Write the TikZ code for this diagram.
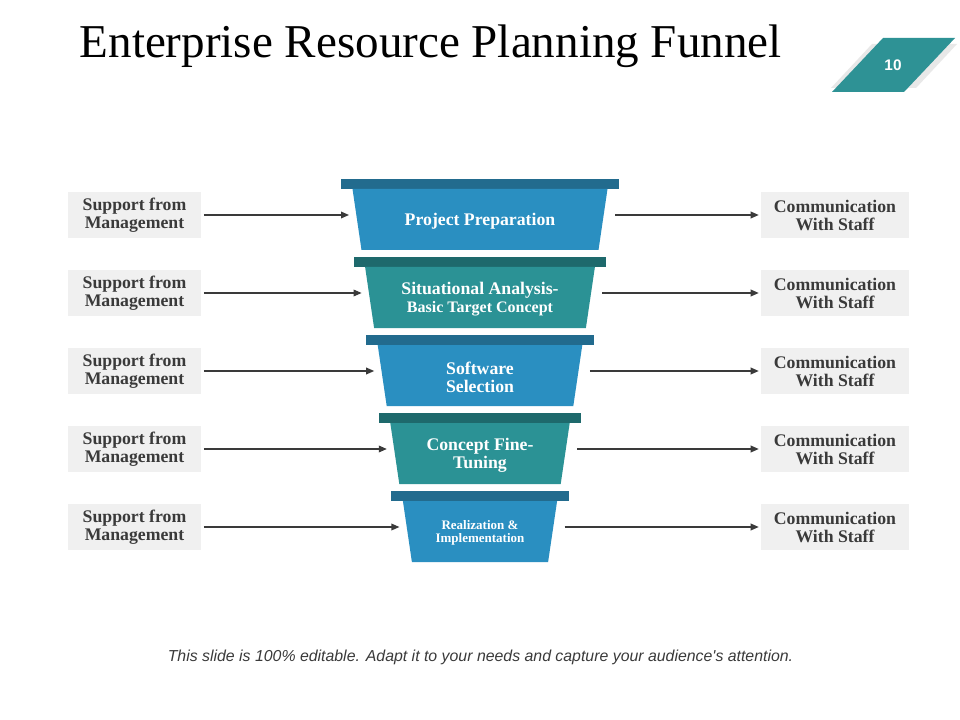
\documentclass[tikz,border=0pt]{standalone}
\usepackage{fontspec}
\setmainfont{Liberation Serif}
\setsansfont{Liberation Sans}
\usetikzlibrary{arrows.meta}
\definecolor{funblue}{HTML}{2A8FC1}
\definecolor{funbluecap}{HTML}{226B8E}
\definecolor{funteal}{HTML}{2B9295}
\definecolor{funtealcap}{HTML}{1E696C}
\definecolor{sidegray}{HTML}{F0F0F0}
\definecolor{textgray}{HTML}{3A3A3A}
\definecolor{badgeteal}{HTML}{2E9295}

\tikzset{
    sidebox/.style={fill=sidegray, text=textgray, align=center, inner sep=0pt,
        font=\bfseries\fontsize{13.3}{13.5}\selectfont, minimum width=99.75pt, minimum height=34.5pt},
    stagetext/.style={text=white, align=center, inner sep=0pt},
    link/.style={draw=textgray, line width=0.9pt, -{Triangle[length=6pt,width=5pt]}}
}

\begin{document}
\begin{tikzpicture}[x=0.75pt, y=-0.75pt]
    \useasboundingbox[fill=white] (0,0) rectangle (960,720);
    \node[anchor=base west, font=\fontsize{35.3}{40}\selectfont] (title) at (75,58) {Enterprise Resource Planning Funnel};
    \fill[gray!18] (872,44) -- (957,44) -- (916,88) -- (831,88) -- cycle;
    \fill[badgeteal] (883,38) -- (955,38) -- (904,92) -- (832,92) -- cycle;
    \node[text=white, font=\sffamily\bfseries\fontsize{11.5}{12}\selectfont] (page) at (893,65.5) {10};
    \foreach \i/\fc/\cc/\fs/\txt in {
        1/funblue/funbluecap/13.3/{Project Preparation},
        2/funteal/funtealcap/13.3/{Situational Analysis-\\\fontsize{12}{13.5}\selectfont Basic Target Concept},
        3/funblue/funbluecap/13.3/{Software\\Selection},
        4/funteal/funtealcap/13.3/{Concept Fine-\\Tuning},
        5/funblue/funbluecap/9.75/{Realization \&\\Implementation}}
    {
        \pgfmathsetmacro\yc{179+78*(\i-1)}
        \pgfmathsetmacro\hw{139-12.6*(\i-1)}
        \fill[\cc] (480-\hw,\yc) rectangle (480+\hw,\yc+10);
        \fill[\fc] (480-\hw+11.5,\yc+10) -- (480+\hw-11.5,\yc+10) -- (480+\hw-20.5,\yc+71) -- (480-\hw+20.5,\yc+71) -- cycle;
        \node[stagetext, font=\bfseries\fontsize{\fs}{\fs}\selectfont] (s\i) at (480,\yc+42) {\txt};
        \node[sidebox] (l\i) at (134.5,\yc+36) {Support from\\Management};
        \node[sidebox, minimum width=111pt] (r\i) at (835,\yc+36) {Communication\\With Staff};
        \coordinate (la\i) at (480-\hw+8,\yc+36);
        \coordinate (ra\i) at (480+\hw-4,\yc+36);
        \draw[link, shorten <=2pt] (l\i.east) -- (la\i);
        \draw[link, shorten >=1.5pt] (ra\i) -- (r\i.west);
    }
    \node[text=textgray, font=\sffamily\itshape\fontsize{11.9}{13}\selectfont] (foot) at (480.5,657) {This slide is 100\% editable. Adapt it to your needs and capture your audience\textquotesingle s attention.};
\end{tikzpicture}
\end{document}
